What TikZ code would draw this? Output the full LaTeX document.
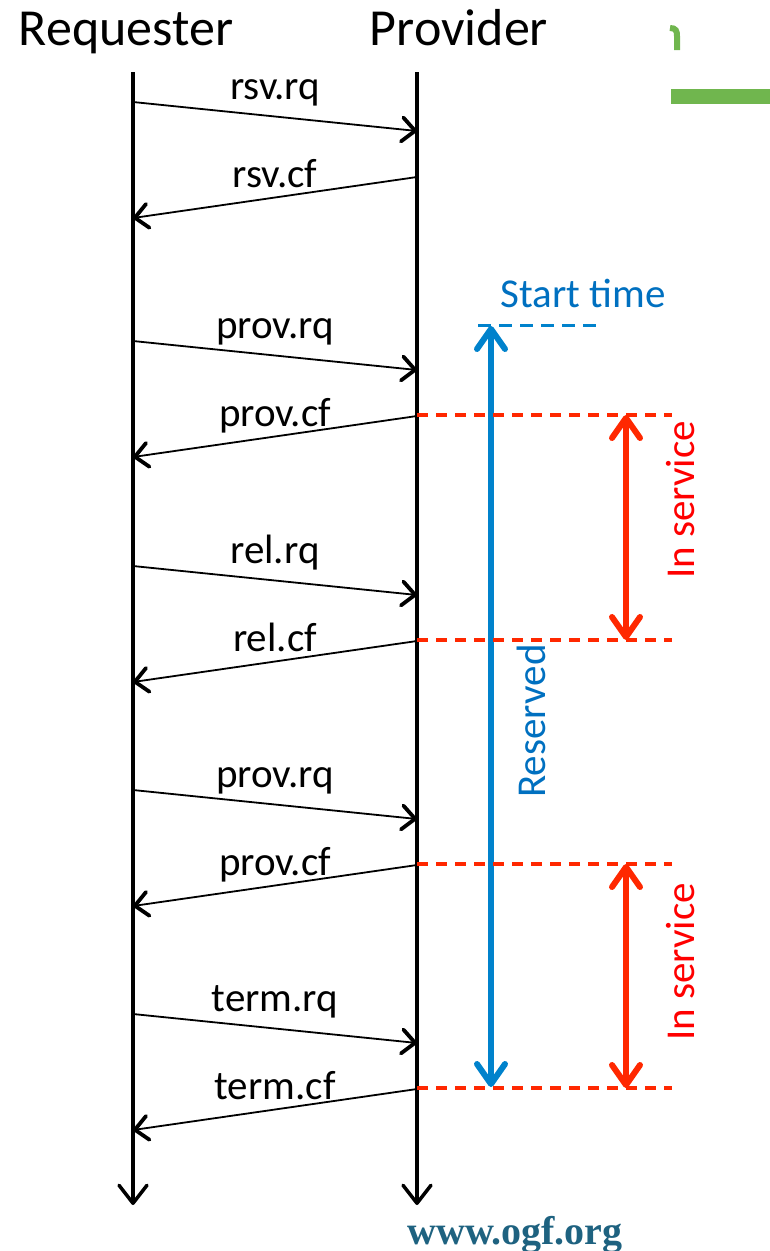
\documentclass[tikz,border=0pt]{standalone}
\usepackage{fontspec}
\setmainfont{Carlito}
\newfontfamily\webfont{Liberation Serif}
\usetikzlibrary{arrows.meta}

\definecolor{resblue}{RGB}{0,130,204}
\definecolor{labelblue}{RGB}{0,112,192}
\definecolor{svcred}{RGB}{255,40,0}
\definecolor{ogfgreen}{RGB}{112,182,78}
\definecolor{ogfteal}{RGB}{30,98,128}

\tikzset{
  lifeline/.style={line width=3.5pt,
    -{Straight Barb[length=18pt,width=28pt,line width=3.5pt,round]}},
  msg/.style={line width=1.8pt,
    -{Straight Barb[length=13pt,width=24pt,line width=3.8pt,round]}},
  head/.style={font=\fontsize{52}{60}\selectfont, anchor=base},
  lbl/.style={font=\fontsize{41}{48}\selectfont, anchor=base},
  period/.style={line width=6pt,
    {Straight Barb[length=20pt,width=28pt,line width=6pt,round]}-{Straight Barb[length=20pt,width=28pt,line width=6pt,round]}},
  boundary/.style={line width=3.5pt, dash pattern=on 11pt off 8pt},
}

\begin{document}
\begin{tikzpicture}[x=1pt,y=-1pt]
\useasboundingbox (0,0) rectangle (770,1251);

% actors
\node[head] (req) at (126,45) {Requester};
\node[head] (prov) at (459,45) {Provider};
\coordinate (reqtop) at (133,72);
\coordinate (reqend) at (133,1205);
\coordinate (provtop) at (417,72);
\coordinate (provend) at (417,1205);
\draw[lifeline] (reqtop) -- (reqend);
\draw[lifeline] (provtop) -- (provend);

% request / confirm pairs
\foreach \y/\rqname/\cfname [count=\i] in {102/rsv.rq/rsv.cf, 341/prov.rq/prov.cf,
    566/rel.rq/rel.cf, 790/prov.rq/prov.cf, 1014/term.rq/term.cf} {
  \coordinate (rq\i s) at (133,\y);
  \coordinate (rq\i e) at (417,\y+29);
  \coordinate (cf\i s) at (417,\y+75);
  \coordinate (cf\i e) at (133,\y+116);
  \draw[msg] (rq\i s) -- (rq\i e);
  \draw[msg] (cf\i s) -- (cf\i e);
  \node[lbl] (rq\i) at (275,\y-3) {\rqname};
  \node[lbl] (cf\i) at (275,\y+85) {\cfname};
}

% start time and reservation
\coordinate (st1) at (478,325);
\coordinate (st2) at (597,325);
\draw[resblue, line width=3pt, dash pattern=on 13pt off 8pt] (st1) -- (st2);
\node[lbl, text=labelblue] (start) at (583,307) {Start time};
\coordinate (res1) at (491,326);
\coordinate (res2) at (491,1087);
\draw[period, resblue] (res1) -- (res2);
\node[lbl, text=labelblue, rotate=90, anchor=center] (resv) at (531,721) {Reserved};

% in service periods
\foreach \a/\b/\c [count=\i] in {415/640/500, 864/1088/962} {
  \coordinate (sa\i) at (417,\a);
  \coordinate (sb\i) at (417,\b);
  \draw[boundary, svcred] (sa\i) -- ++(255,0);
  \draw[boundary, svcred] (sb\i) -- ++(255,0);
  \coordinate (svtop\i) at (626,\a);
  \coordinate (svbot\i) at (626,\b);
  \draw[period, svcred] (svtop\i) -- (svbot\i);
  \node[lbl, text=red, rotate=90, anchor=center] (svc\i) at (681,\c) {In service};
}

% slide leftovers
\fill[ogfgreen] (671,89) rectangle (770,104);
\draw[ogfgreen, line width=6pt] (670,28) .. controls (676,28) and (677,31) .. (677,36) -- (677,50);
\node[font=\webfont\bfseries\fontsize{40}{46}\selectfont, text=ogfteal, anchor=base] (web) at (515,1244) {www.ogf.org};
\end{tikzpicture}
\end{document}
